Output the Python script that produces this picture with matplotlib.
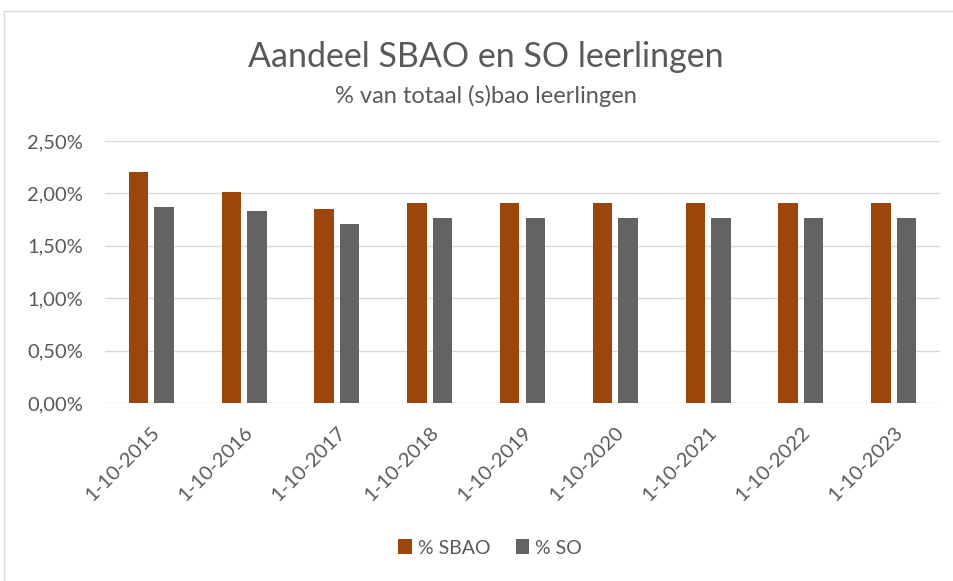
import matplotlib.pyplot as plt
import numpy as np
from matplotlib.lines import Line2D
from matplotlib.ticker import FuncFormatter
from matplotlib.transforms import ScaledTranslation

dates = ['1-10-2015', '1-10-2016', '1-10-2017', '1-10-2018', '1-10-2019',
         '1-10-2020', '1-10-2021', '1-10-2022', '1-10-2023']
sbao = [2.20, 2.01, 1.85, 1.91, 1.91, 1.91, 1.91, 1.91, 1.91]
so = [1.87, 1.83, 1.71, 1.77, 1.77, 1.77, 1.77, 1.77, 1.77]

plt.rcParams['font.family'] = ['Lato', 'DejaVu Sans']
grey = '#595959'

fig = plt.figure(figsize=(9.54, 5.81), dpi=100)
ax = fig.add_axes([105 / 954, 1 - 403 / 581, 835 / 954, 262 / 581])

x = np.arange(len(dates))
w = 0.21
gap = 0.065
ax.bar(x - (w + gap) / 2, sbao, w, color='#9c460c', label='% SBAO', zorder=3)
ax.bar(x + (w + gap) / 2, so, w, color='#636363', label='% SO', zorder=3)

ax.set_xlim(-0.5, len(dates) - 0.5)
ax.set_ylim(0, 2.5)
ax.set_yticks(np.arange(0, 2.51, 0.5))
ax.yaxis.set_major_formatter(FuncFormatter(lambda v, p: f'{v:.2f}%'.replace('.', ',')))
ax.grid(axis='y', color='#d9d9d9', linewidth=1, zorder=0)
for s in ax.spines.values():
    s.set_visible(False)
ax.tick_params(length=0, labelsize=14.5, colors=grey)
ax.tick_params(axis='y', pad=16)
ax.set_xticks(x)
ax.set_xticklabels(dates, rotation=45, ha='right', va='center', rotation_mode='anchor')
ax.tick_params(axis='x', pad=19)
shift = ScaledTranslation(0.06, 0, fig.dpi_scale_trans)
for lab in ax.get_xticklabels():
    lab.set_transform(lab.get_transform() + shift)

fig.text(486 / 954, 1 - 57 / 581, 'Aandeel SBAO en SO leerlingen', ha='center', va='center',
         fontsize=24.5, color=grey)
fig.text(486 / 954, 1 - 96 / 581, '% van totaal (s)bao leerlingen', ha='center', va='center',
         fontsize=17, color=grey)

fig.legend(loc='center', bbox_to_anchor=(490 / 954, 1 - 548 / 581), ncol=2, frameon=False,
           fontsize=14, labelcolor=grey, handlelength=0.7, handleheight=0.8,
           handletextpad=0.3, columnspacing=1.3)

# chart border (only top and left edges are visible in the crop)
fig.lines.append(Line2D([4 / 954, 4 / 954], [0, 1 - 11 / 581], transform=fig.transFigure,
                        color='#d9d9d9', linewidth=1))
fig.lines.append(Line2D([4 / 954, 1], [1 - 11 / 581, 1 - 11 / 581], transform=fig.transFigure,
                        color='#d9d9d9', linewidth=1))

fig.savefig('out.png', dpi=100)
